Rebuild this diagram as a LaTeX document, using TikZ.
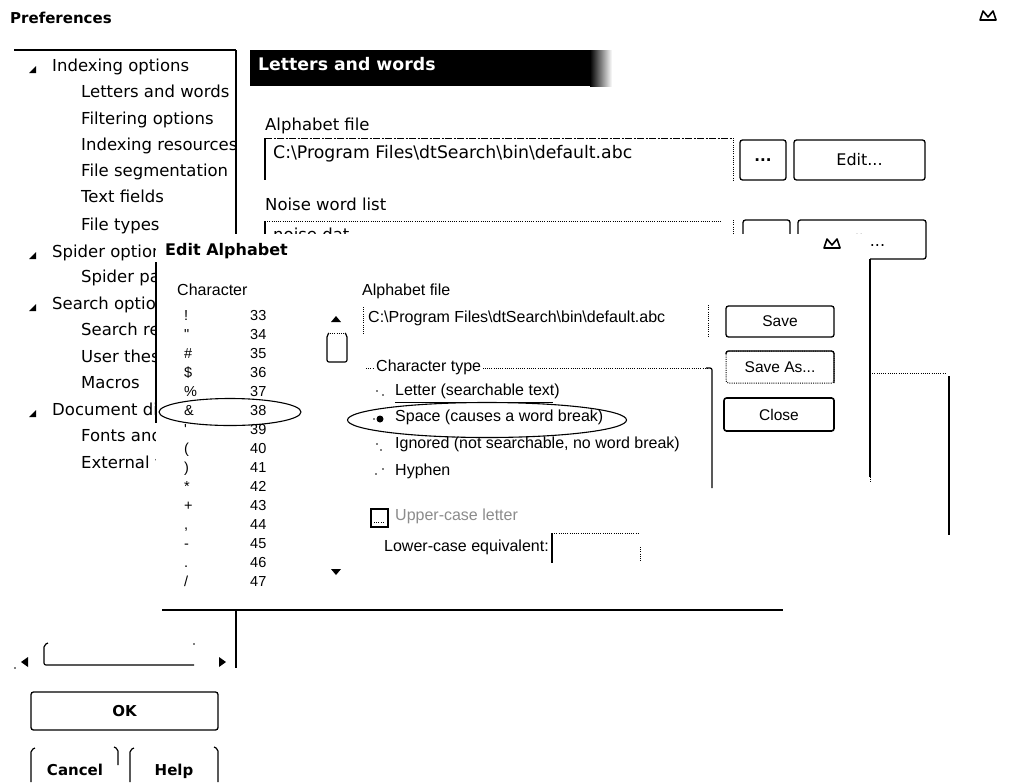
\documentclass[tikz,border=0pt]{standalone}
\usepackage{fontspec}
\setmainfont{DejaVu Sans}
\newfontfamily\dlg{Liberation Sans}
\usetikzlibrary{shapes.geometric}
\tikzset{
  tree/.style={anchor=mid west, inner sep=0pt, font=\fontsize{16.5}{19}\selectfont},
  ptext/.style={anchor=mid west, inner sep=0pt, font=\fontsize{16.5}{19}\selectfont},
  dtext/.style={anchor=mid west, inner sep=0pt, font=\dlg\fontsize{16}{18}\selectfont},
  ltext/.style={anchor=mid west, inner sep=0pt, font=\dlg\fontsize{14.5}{16}\selectfont},
  btn/.style={draw, line width=1.3pt, rounded corners=2.5pt, inner sep=0pt},
  pbtntext/.style={font=\bfseries\fontsize{15}{17}\selectfont},
  dbtntext/.style={font=\dlg\fontsize{15.5}{17}\selectfont},
  thinl/.style={line width=1.2pt},
  dotl/.style={line width=1pt, dash pattern=on 1pt off 1.2pt},
  dashdotl/.style={line width=1pt, dash pattern=on 7pt off 1.5pt on 2pt off 1.5pt},
  hilite/.style={draw, ellipse, line width=1.1pt, inner sep=0pt},
  radiodot/.style={circle, fill=black, inner sep=0pt, minimum size=1.6pt}
}
\begin{document}
\begin{tikzpicture}[x=1pt,y=-1pt]
\useasboundingbox (0,0) rectangle (1011,782);
\fill[white] (0,0) rectangle (1011,782);

% ---------- Preferences window ----------
\node[anchor=mid west, inner sep=0pt, font=\bfseries\fontsize{15}{17}\selectfont] (preftitle) at (10,21) {Preferences};
\draw[line width=1.6pt, line join=round] (980,20) -- (983,11) -- (988,17) -- (993,11) -- (996,20) -- cycle;

% tree panel
\draw[thinl] (14,50) -- (236,50);
\draw[thinl] (236,50) -- (236,234);
\begin{scope}
  \clip (0,40) rectangle (234,600);
  \foreach \ty in {69,255,307,413}{\fill (29,\ty+4) -- (36,\ty+4) -- (36,\ty-3) -- cycle;}
  \node[tree] (t1) at (52,69) {Indexing options};
  \node[tree] (t2) at (81,95) {Letters and words};
  \node[tree] (t3) at (81,122) {Filtering options};
  \node[tree] (t4) at (81,148) {Indexing resources};
  \node[tree] (t5) at (81,174) {File segmentation};
  \node[tree] (t6) at (81,200) {Text fields};
  \node[tree] (t7) at (81,228) {File types};
  \node[tree] (t8) at (52,255) {Spider options};
  \node[tree] (t9) at (81,280) {Spider pages};
  \node[tree] (t10) at (52,307) {Search options};
  \node[tree] (t11) at (81,333) {Search results};
  \node[tree] (t12) at (81,360) {User thesaurus};
  \node[tree] (t13) at (81,386) {Macros};
  \node[tree] (t14) at (52,413) {Document display};
  \node[tree] (t15) at (81,439) {Fonts and colors};
  \node[tree] (t16) at (81,466) {External viewers};
\end{scope}

% header
\fill[black] (250,50) rectangle (590,86);
\shade[left color=black, right color=white] (590,50) rectangle (612,86);
\node[anchor=mid west, inner sep=0pt, text=white, font=\bfseries\fontsize{17.3}{19}\selectfont] (hdr) at (258,68) {Letters and words};

% alphabet file row
\node[ptext] (alab) at (265,128) {Alphabet file};
\draw[dashdotl] (265,138) -- (733,138);
\draw[dotl] (733,138) -- (733,180);
\draw[thinl] (265,138) -- (265,180);
\node[ptext, font=\fontsize{17.3}{19}\selectfont] (apath) at (273,156) {C:\textbackslash Program Files\textbackslash dtSearch\textbackslash bin\textbackslash default.abc};
\node[btn, minimum width=46pt, minimum height=40pt, pbtntext] (browse1) at (763,160) {...};
\node[btn, minimum width=131pt, minimum height=40pt, font=\fontsize{16}{18}\selectfont] (edit1) at (859.5,160) {Edit...};

% noise word list row
\node[ptext] (nlab) at (265,208) {Noise word list};
\draw[dotl] (265,221) -- (722,221);
\draw[dotl] (733,220) -- (733,234);
\draw[thinl] (265,221) -- (265,234);
\node[ptext] (npath) at (273,238) {noise.dat};
\draw[line width=1.3pt, rounded corners=2.5pt] (743,236) -- (743,220) -- (790,220) -- (790,236);
\draw[line width=1.3pt, rounded corners=2.5pt] (798,236) -- (798,220) -- (926,220) -- (926,259) -- (866,259);
\node[font=\fontsize{16}{18}\selectfont, inner sep=0pt] (edit2) at (862,241) {Edit...};

% ---------- Edit Alphabet overlay ----------
\fill[white] (156,234) rectangle (870,609);
\draw[thinl] (156,262) -- (156,423);
\draw[thinl] (870,259) -- (870,477);
\draw[dotl] (870,477) -- (870,482);
\node[anchor=mid west, inner sep=0pt, font=\bfseries\fontsize{16}{18}\selectfont] (dtitle) at (165,253) {Edit Alphabet};
\draw[line width=1.6pt, line join=round] (824,248) -- (827,239) -- (832,245) -- (837,239) -- (840,248) -- cycle;

% character list
\node[dtext] (chead) at (177,293) {Character};
\begin{scope}
  \clip (160,300) rectangle (300,589);
  \node[ltext] (c33) at (184,318) {!};
  \node[ltext] (c34) at (184,337) {\symbol{34}};
  \node[ltext] (c35) at (184,356) {\#};
  \node[ltext] (c36) at (184,375) {\$};
  \node[ltext] (c37) at (184,394) {\%};
  \node[ltext] (c38) at (184,413) {\&};
  \node[ltext] (c39) at (184,432) {\symbol{39}};
  \node[ltext] (c40) at (184,451) {(};
  \node[ltext] (c41) at (184,470) {)};
  \node[ltext] (c42) at (184,489) {*};
  \node[ltext] (c43) at (184,508) {+};
  \node[ltext] (c44) at (184,527) {,};
  \node[ltext] (c45) at (184,546) {-};
  \node[ltext] (c46) at (184,565) {.};
  \node[ltext] (c47) at (184,584) {/};
  \foreach \k in {33,...,47}{
    \pgfmathsetmacro{\yy}{318+19*(\k-33)}
    \node[ltext] (n\k) at (250,\yy) {\k};
  }
\end{scope}
\node[hilite, minimum width=142pt, minimum height=27pt] (ring1) at (230,412) {};

% scrollbar
\fill (331,322) -- (341,322) -- (336,316) -- cycle;
\fill (331,569) -- (341,569) -- (336,575) -- cycle;
\draw[thinl, rounded corners=2pt] (329,333) -- (327,335) -- (327,362) -- (347,362) -- (347,335) -- (345,333);
\draw[dotl] (330,333) -- (344,333);

% alphabet file
\node[dtext] (dalab) at (362,293) {Alphabet file};
\draw[dotl] (363,307) -- (363,334);
\node[dtext] (dapath) at (368,320) {C:\textbackslash Program Files\textbackslash dtSearch\textbackslash bin\textbackslash default.abc};
\draw[dotl] (708,305) -- (708,337);

% buttons
\node[btn, minimum width=108pt, minimum height=31pt, dbtntext] (save) at (780,321.5) {Save};
\node[btn, dotl, minimum width=108pt, minimum height=32pt, dbtntext] (saveas) at (780,367) {Save As...};
\draw[line width=1.3pt, rounded corners=2.5pt] (726,354) -- (726,351) -- (834,351) -- (834,383);
\node[btn, line width=1.6pt, minimum width=110pt, minimum height=33pt, dbtntext] (closeb) at (779,414.5) {Close};

% character type group
\draw[dotl] (366,368) -- (709,368);
\draw[thinl, rounded corners=2pt] (706,368) -- (712,368) -- (712,488);
\node[dtext, fill=white, inner xsep=2pt] (ctype) at (374,369) {Character type};

% radio options
\node[radiodot] (r1a) at (377,391) {};
\node[radiodot] (r1b) at (383,395) {};
\node[dtext] (o1) at (395,393) {Letter (searchable text)};
\draw[line width=0.9pt] (395,402) -- (553,402);
\node[circle, fill=black, minimum size=7pt, inner sep=0pt] (r2) at (380,419) {};
\node[radiodot] (r2b) at (374,419) {};
\node[dtext] (o2) at (395,419) {Space (causes a word break)};
\node[hilite, minimum width=279pt, minimum height=35pt] (ring2) at (487,420) {};
\node[radiodot] (r3a) at (377,444) {};
\node[radiodot] (r3b) at (381,450) {};
\node[dtext] (o3) at (395,446) {Ignored (not searchable, no word break)};
\node[radiodot] (r4a) at (376,474) {};
\node[radiodot] (r4b) at (383,469) {};
\node[dtext] (o4) at (395,473) {Hyphen};

% upper / lower case
\draw[thinl] (371,509) rectangle (388,527);
\draw[dotl] (374,522) -- (385,522);
\node[dtext, text=black!45] (upper) at (395,518) {Upper-case letter};
\node[dtext] (lower) at (384,549) {Lower-case equivalent:};
\draw[thinl] (552,533) -- (552,563);
\draw[dotl] (552,533) -- (640,533);
\draw[dotl] (640,547) -- (640,561);

% lines outside dialog on the right
\draw[dotl] (870,373) -- (945,373);
\draw[thinl] (949,376) -- (949,535);

% bottom of dialog
\draw[thinl] (162,610) -- (783,610);

% ---------- lower part of Preferences ----------
\draw[thinl] (236,610) -- (236,668);
\fill (21,662) -- (28,657) -- (28,667) -- cycle;
\fill (226,662) -- (219,657) -- (219,667) -- cycle;
\draw[thinl, rounded corners=2pt] (48,643) -- (44,645) -- (44,665) -- (194,665);
\fill (194,644) circle (0.8pt);
\fill (15,668) circle (0.8pt);

\node[btn, minimum width=187pt, minimum height=38pt, pbtntext] (ok) at (124.5,711) {OK};
\draw[thinl, rounded corners=2pt] (35,748) -- (31,750) -- (31,782);
\draw[thinl, rounded corners=2pt] (114,747) -- (118,749) -- (118,765);
\node[pbtntext, inner sep=0pt, anchor=base] (cancel) at (75,775) {Cancel};
\draw[thinl, rounded corners=2pt] (134,748) -- (130,750) -- (130,782);
\draw[thinl, rounded corners=2pt] (214,747) -- (218,749) -- (218,782);
\node[pbtntext, inner sep=0pt, anchor=base] (help) at (174,775) {Help};
\end{tikzpicture}
\end{document}
